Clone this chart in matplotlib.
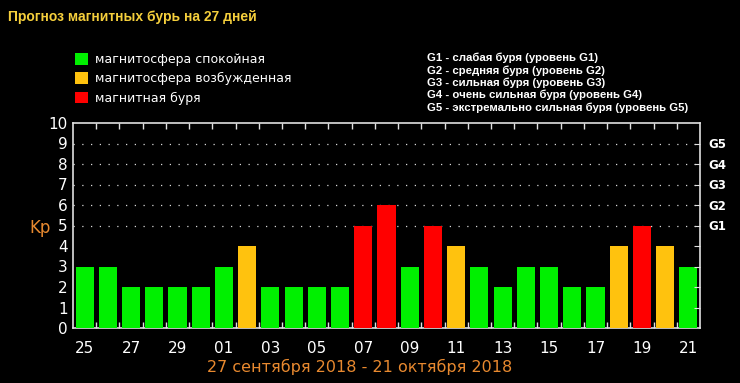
import matplotlib
matplotlib.use('Agg')
from matplotlib import pyplot as plt
from matplotlib.patches import Patch

days = ['25', '26', '27', '28', '29', '30', '01', '02', '03', '04', '05', '06', '07', '08',
        '09', '10', '11', '12', '13', '14', '15', '16', '17', '18', '19', '20', '21']
kp = [3, 3, 2, 2, 2, 2, 3, 4, 2, 2, 2, 2, 5, 6, 3, 5, 4, 3, 2, 3, 3, 2, 2, 4, 5, 4, 3]
storm_levels = ['G1', 'G2', 'G3', 'G4', 'G5']
storm_notes = [
    'G1 - слабая буря (уровень G1)',
    'G2 - средняя буря (уровень G2)',
    'G3 - сильная буря (уровень G3)',
    'G4 - очень сильная буря (уровень G4)',
    'G5 - экстремально сильная буря (уровень G5)',
]
state_labels = ['магнитосфера спокойная', 'магнитосфера возбужденная', 'магнитная буря']
title = 'Прогноз магнитных бурь на 27 дней'
period = '27 сентября 2018 - 21 октября 2018'

GREEN = '#00f000'
YELLOW = '#ffc20e'
RED = '#ff0000'
ORANGE = '#e8892f'


def bar_color(v):
    if v >= 5:
        return RED
    if v == 4:
        return YELLOW
    return GREEN


fig = plt.figure(figsize=(7.4, 3.83), dpi=100, facecolor='black')
ax = fig.add_axes([73 / 740, 1 - 328 / 383, 627 / 740, 205 / 383], facecolor='black')

x = list(range(len(days)))
ax.bar(x, kp, width=0.78, color=[bar_color(v) for v in kp], zorder=3)

# dotted grid only for storm levels
for lvl in range(5, 10):
    ax.axhline(lvl, color='#d8d8d8', lw=0.9, ls=(0, (1, 6)), zorder=1)

ax.set_xlim(-0.5, len(days) - 0.5)
ax.set_ylim(0, 10)
for s in ax.spines.values():
    s.set_color('#e0e0e0')
    s.set_linewidth(1.2)

ax.set_yticks(range(0, 11))
ax.set_yticklabels([str(i) for i in range(0, 11)])
ax.tick_params(axis='y', which='both', left=False, length=0, colors='white', labelsize=11, pad=4)
ax.set_xticks(x[::2])
ax.set_xticklabels(days[::2])
ax.tick_params(axis='x', which='major', bottom=False, colors='white', labelsize=11, pad=6)
# boundary ticks, inside the frame
ax.set_xticks([i + 0.5 for i in range(len(days) - 1)], minor=True)
ax.tick_params(axis='x', which='minor', direction='in', top=True, bottom=True,
               length=4, color='#e0e0e0', width=1)

rax = ax.twinx()
rax.set_ylim(0, 10)
rax.set_yticks(range(1, 10))
rax.set_yticklabels([''] * 4 + storm_levels)
rax.tick_params(axis='y', direction='in', length=4, color='#e0e0e0', labelcolor='white',
                labelsize=8.5, pad=6)
for lab in rax.get_yticklabels():
    lab.set_fontweight('bold')
for s in rax.spines.values():
    s.set_visible(False)

ax.text(-0.036, 0.49, 'Kp', transform=ax.transAxes, color=ORANGE, fontsize=12,
        ha='right', va='center')

fig.text(8 / 740, 1 - 17 / 383, title, color='#f5cf3c', fontsize=10, fontweight='bold',
         family='Liberation Sans', ha='left', va='center')
fig.text(360 / 740, 1 - 367 / 383, period, color=ORANGE, fontsize=11.5, ha='center', va='center')

handles = [Patch(facecolor=c, edgecolor='none') for c in (GREEN, YELLOW, RED)]
fig.legend(handles, state_labels, loc='upper left', bbox_to_anchor=(75 / 740, 1 - 53 / 383),
           frameon=False, labelcolor='white', fontsize=9, handlelength=1.05, handleheight=1.05,
           handletextpad=0.55, labelspacing=0.5, borderpad=0, borderaxespad=0)

for i, note in enumerate(storm_notes):
    fig.text(427 / 740, 1 - (58 + i * 12.4) / 383, note, color='white', fontsize=8.2,
             fontweight='bold', family='Liberation Sans', ha='left', va='center')

fig.savefig('out.png', dpi=100, facecolor='black')
